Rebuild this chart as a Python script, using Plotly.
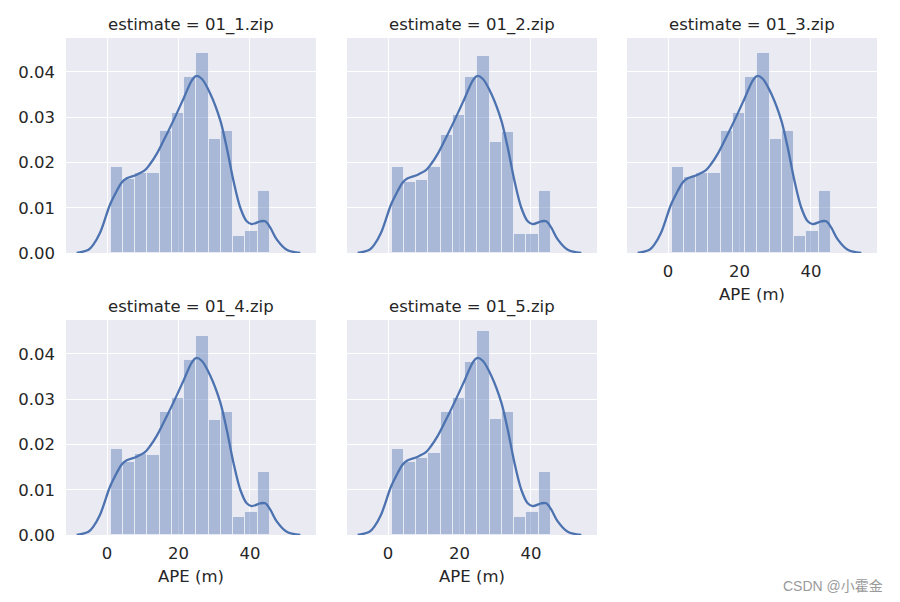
import plotly.graph_objects as go

panel_titles = ["estimate = 01_1.zip", "estimate = 01_2.zip", "estimate = 01_3.zip",
                "estimate = 01_4.zip", "estimate = 01_5.zip"]

bin_start = 1.0
bin_width = 3.43

hist_density = [
    [0.0190, 0.0164, 0.0176, 0.0176, 0.0270, 0.0309, 0.0389, 0.0442, 0.0251, 0.0270, 0.0038, 0.0048, 0.0137],
    [0.0189, 0.0157, 0.0161, 0.0189, 0.0261, 0.0304, 0.0389, 0.0436, 0.0246, 0.0268, 0.0042, 0.0042, 0.0137],
    [0.0190, 0.0167, 0.0176, 0.0176, 0.0270, 0.0309, 0.0389, 0.0442, 0.0251, 0.0270, 0.0038, 0.0048, 0.0137],
    [0.0191, 0.0162, 0.0178, 0.0176, 0.0271, 0.0303, 0.0386, 0.0439, 0.0253, 0.0271, 0.0040, 0.0051, 0.0139],
    [0.0191, 0.0162, 0.0171, 0.0181, 0.0271, 0.0303, 0.0382, 0.0450, 0.0256, 0.0271, 0.0040, 0.0051, 0.0139],
]

kde_x = [-8.5, -5.2, -3.8, -2.0, 0.84, 2.7, 4.1, 5.5, 8.3, 10.6, 12.0, 13.9, 15.8, 18.6, 21.4,
         23.7, 24.9, 26.5, 28.9, 31.7, 33.5, 35.4, 37.3, 39.1, 40.5, 42.9, 44.3, 45.7, 47.5, 50.3, 54.1]
kde_y = [0.0, 0.0007, 0.0019, 0.0044, 0.0107, 0.0137, 0.0156, 0.0165, 0.0173, 0.0183, 0.0196,
         0.0219, 0.0248, 0.0293, 0.0341, 0.0381, 0.0391, 0.0385, 0.0352, 0.0293, 0.0233, 0.0159,
         0.0100, 0.0070, 0.0064, 0.0070, 0.0070, 0.0056, 0.0030, 0.0007, 0.0]

x_ticks = [0, 20, 40]
y_ticks = [0.00, 0.01, 0.02, 0.03, 0.04]
x_range = [-11.5, 58.5]
y_range = [0, 0.0475]
x_label = "APE (m)"
watermark = "CSDN @小霍金"

W, H = 900, 602
OFF = 8  # page body margin offset
col_px = [(66, 316), (347, 597), (627, 877)]
row_px = [(38, 253), (320, 535)]
positions = [(0, 0), (0, 1), (0, 2), (1, 0), (1, 1)]
show_xlabels = [False, False, True, True, True]
show_ylabels = [True, False, False, True, False]

FONT = "DejaVu Sans"
TXT = "#262626"
BLUE = "#4c72b0"
FS = 16.5

fig = go.Figure()
layout = dict(
    width=W, height=H, margin=dict(l=0, r=0, t=0, b=0, autoexpand=False),
    paper_bgcolor="white", plot_bgcolor="#eaeaf2", showlegend=False,
    font=dict(family=FONT, color=TXT, size=FS), bargap=0,
)
annotations = []

bin_centers = [bin_start + bin_width * (i + 0.5) for i in range(len(hist_density[0]))]

def px_x(v):
    return (v - OFF) / W

def px_y(v):
    return 1 - (v - OFF) / H

for i, (r, c) in enumerate(positions):
    n = i + 1
    xa = "x" if n == 1 else f"x{n}"
    ya = "y" if n == 1 else f"y{n}"
    fig.add_trace(go.Bar(
        x=bin_centers, y=hist_density[i], width=bin_width,
        marker=dict(color="rgba(76,114,176,0.42)", line=dict(color="rgba(255,255,255,0.55)", width=1)),
        xaxis=xa, yaxis=ya, hoverinfo="skip"))
    fig.add_trace(go.Scatter(
        x=kde_x, y=kde_y, mode="lines", line=dict(color=BLUE, width=2.3, shape="spline", smoothing=0.9),
        xaxis=xa, yaxis=ya, hoverinfo="skip"))
    x0, x1 = col_px[c]
    y0, y1 = row_px[r]
    xkey = "xaxis" if n == 1 else f"xaxis{n}"
    ykey = "yaxis" if n == 1 else f"yaxis{n}"
    layout[xkey] = dict(
        domain=[px_x(x0), px_x(x1)], anchor=ya, range=x_range, tickvals=x_ticks, automargin=False,
        showticklabels=show_xlabels[i], showgrid=True, gridcolor="white", gridwidth=1.3,
        zeroline=False, showline=False, ticks="", tickfont=dict(size=FS, color=TXT),
        ticklabelstandoff=6,
        title=dict(text=x_label if show_xlabels[i] else "", font=dict(size=FS, color=TXT), standoff=8),
    )
    layout[ykey] = dict(
        domain=[px_y(y1), px_y(y0)], anchor=xa, range=y_range, tickvals=y_ticks, automargin=False,
        tickformat=".2f", showticklabels=show_ylabels[i], showgrid=True, gridcolor="white",
        gridwidth=1.3, zeroline=False, showline=False, ticks="", ticklabelstandoff=10,
        tickfont=dict(size=FS, color=TXT),
    )
    annotations.append(dict(
        text=panel_titles[i], x=px_x((x0 + x1) / 2), y=px_y(y0 - 1), xref="paper", yref="paper",
        xanchor="center", yanchor="bottom", showarrow=False, font=dict(size=FS, color=TXT)))

annotations.append(dict(
    text=watermark, x=px_x(885), y=px_y(586), xref="paper", yref="paper", xanchor="right",
    yanchor="middle", showarrow=False,
    font=dict(size=14, color="#9a9a9a", family="Liberation Sans, Noto Sans CJK SC")))
layout["annotations"] = annotations
fig.update_layout(**layout)
fig.write_html("out.html")
